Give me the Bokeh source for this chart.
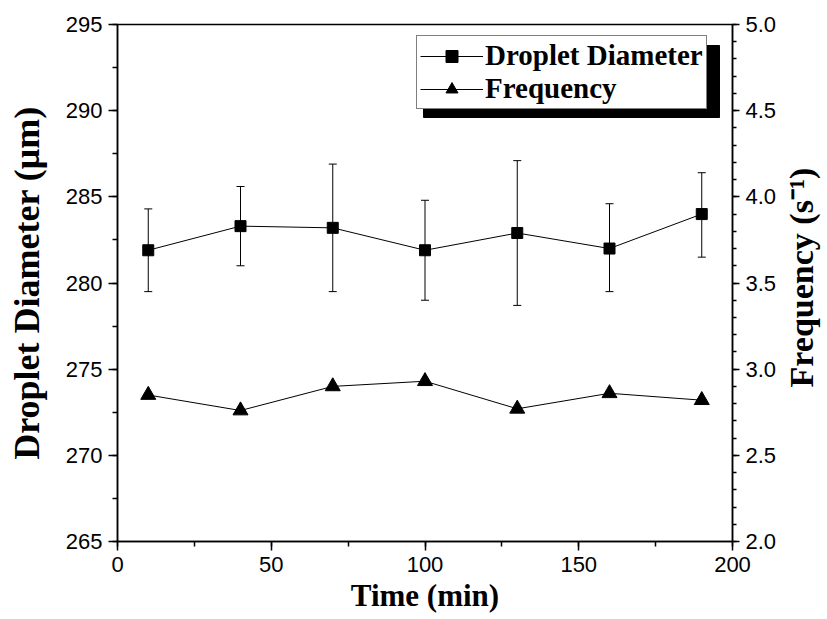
import math
from bokeh.plotting import figure
from bokeh.models import (Range1d, LinearAxis, Whisker, ColumnDataSource, Legend, Label,
                          LegendItem, SingleIntervalTicker, PrintfTickFormatter, TeeHead)
from bokeh.embed import file_html
from bokeh.resources import INLINE

# ---- data ----
time_min = [10, 40, 70, 100, 130, 160, 190]
diameter = [281.9, 283.3, 283.2, 281.9, 282.9, 282.0, 284.0]
diam_upper = [284.3, 285.6, 286.9, 284.8, 287.1, 284.6, 286.4]
diam_lower = [279.5, 281.0, 279.5, 279.0, 278.7, 279.5, 281.5]
frequency = [2.85, 2.76, 2.90, 2.93, 2.77, 2.86, 2.82]

x_start, x_end = 0, 200
y_start, y_end = 265, 295
f_start, f_end = 2.0, 5.0

# ---- layout constants ----
W, H = 827, 619
BL, BR, BT, BB = 117, 95, 24, 78
FW = W - BL - BR
FH = H - BT - BB

p = figure(width=W, height=H, x_range=Range1d(x_start, x_end), y_range=Range1d(y_start, y_end),
           output_backend="svg", toolbar_location=None,
           min_border_left=BL, min_border_right=BR, min_border_top=BT, min_border_bottom=BB)
p.extra_y_ranges = {"freq": Range1d(f_start, f_end)}
p.xgrid.visible = False
p.ygrid.visible = False
p.outline_line_color = "black"
p.outline_line_width = 1.5
p.outline_line_alpha = 1.0
p.background_fill_color = "white"
p.border_fill_color = "white"

right_axis = LinearAxis(y_range_name="freq")
p.add_layout(right_axis, "right")

TICK_FONT = "Liberation Sans"
TITLE_FONT = "Liberation Serif"

def style_axis(ax, major_out, minor_out):
    ax.axis_line_width = 1.5
    ax.axis_line_color = "black"
    ax.major_tick_line_width = 1.5
    ax.minor_tick_line_width = 1.5
    ax.major_tick_line_color = "black"
    ax.minor_tick_line_color = "black"
    ax.major_tick_in = 0
    ax.major_tick_out = major_out
    ax.minor_tick_in = 0
    ax.minor_tick_out = minor_out
    ax.major_label_text_font = TICK_FONT
    ax.major_label_text_font_size = "22px"
    ax.major_label_text_color = "black"
    ax.major_label_standoff = 6
    ax.axis_label_text_font = TITLE_FONT
    ax.axis_label_text_font_style = "bold"
    ax.axis_label_text_color = "black"

xax = p.xaxis[0]
yax = p.yaxis[0]
style_axis(xax, 9, 5)
style_axis(yax, 9, 5)
style_axis(right_axis, 7, 4)

xax.ticker = SingleIntervalTicker(interval=50, num_minor_ticks=2)
yax.ticker = SingleIntervalTicker(interval=5, num_minor_ticks=2)
right_axis.ticker = SingleIntervalTicker(interval=0.5, num_minor_ticks=5)
right_axis.formatter = PrintfTickFormatter(format="%.1f")

xax.axis_label = "Time (min)"
xax.axis_label_text_font_size = "31px"
xax.axis_label_standoff = 3
yax.axis_label = "Droplet Diameter (μm)"
yax.axis_label_text_font_size = "36px"
yax.axis_label_standoff = 16

# right-hand title, reading bottom to top, in the panel beside the right axis
RT_X, RT_Y = 22, BT + FH - 277     # px from that panel's left / frame bottom
p.add_layout(Label(x=RT_X, y=RT_Y, x_units="screen", y_units="screen",
                   text="Frequency (s⁻¹)", angle=math.pi / 2,
                   text_align="center", text_baseline="middle",
                   text_font=TITLE_FONT, text_font_style="bold", text_font_size="34px",
                   text_color="black"), "right")

# ---- data glyphs ----
src = ColumnDataSource(dict(t=time_min, d=diameter, up=diam_upper, lo=diam_lower, f=frequency))

whisk = Whisker(source=src, base="t", upper="up", lower="lo", line_color="black", line_width=1,
                upper_head=TeeHead(size=8, line_width=1, line_color="black"),
                lower_head=TeeHead(size=8, line_width=1, line_color="black"))
p.add_layout(whisk)

l1 = p.line("t", "d", source=src, line_color="black", line_width=1)
s1 = p.scatter("t", "d", source=src, marker="square", size=11, fill_color="black", line_color="black")
l2 = p.line("t", "f", source=src, line_color="black", line_width=1, y_range_name="freq")
s2 = p.scatter("t", "f", source=src, marker="triangle", size=15, fill_color="black",
               line_color="black", y_range_name="freq")

# ---- legend with drop shadow ----
LEG_X, LEG_Y = 299, 432     # bottom-left corner, px from frame left / frame bottom
LEG_W, LEG_H = 296, 72
SH_DX, SH_DY = 7, 8
sx0 = x_start + (LEG_X + SH_DX) * (x_end - x_start) / FW
sx1 = x_start + (LEG_X + LEG_W + SH_DX) * (x_end - x_start) / FW
sy1 = y_start + (LEG_Y + LEG_H - SH_DY) * (y_end - y_start) / FH
sy0 = y_start + (LEG_Y - SH_DY) * (y_end - y_start) / FH
p.quad(left=[sx0], right=[sx1], bottom=[sy0], top=[sy1], fill_color="black", line_color="black")

legend = Legend(items=[LegendItem(label="Droplet Diameter", renderers=[l1, s1]),
                       LegendItem(label="Frequency", renderers=[l2, s2])],
                location=(LEG_X, LEG_Y), margin=0, padding=3, spacing=0,
                glyph_width=63, glyph_height=30, label_height=30, label_standoff=2,
                label_text_font=TITLE_FONT, label_text_font_style="bold",
                label_text_font_size="29px", label_text_color="black",
                border_line_color="black", border_line_width=1,
                background_fill_color="white", background_fill_alpha=1.0)
p.add_layout(legend)

open("out.html", "w").write(file_html(p, INLINE))
